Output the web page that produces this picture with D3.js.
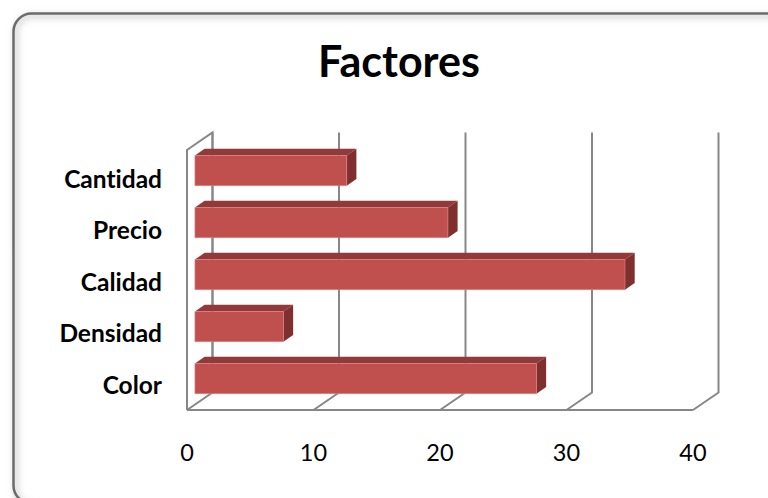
<!DOCTYPE html>
<html>
<head>
<meta charset="utf-8">
<script src="https://cdn.jsdelivr.net/npm/d3@7"></script>
<style>
  html, body { margin: 0; padding: 0; background: #ffffff; }
  svg { display: block; }
  text { font-family: Lato, "Open Sans", sans-serif; fill: #000;
         font-variant-ligatures: none; font-feature-settings: "liga" 0, "clig" 0; }
</style>
</head>
<body>
<svg id="chart" width="768" height="498"></svg>
<script>
// ---- data ----
const title = "Factores";
const categories = ["Cantidad", "Precio", "Calidad", "Densidad", "Color"];
const values = [12, 20, 34, 7, 27];
const xTicks = [0, 10, 20, 30, 40];

// ---- layout ----
const svg = d3.select("#chart");

const plot = { left: 187, right: 693, top: 150, bottom: 410 };
const depth = { dx: 25.5, dy: -17.5 };      // full wall depth offset
const barDepth = { start: 0.31, size: 0.38 }; // fraction of depth

const x = d3.scaleLinear().domain([0, 40]).range([plot.left, plot.right]);
const y = d3.scaleBand().domain(categories).range([plot.top, plot.bottom])
  .paddingInner(0.42).paddingOuter(0.21);

// project a point (value, yFront, depthFraction)
function P(v, yy, f) { return [x(v) + depth.dx * f, yy + depth.dy * f]; }

// ---- frame ----
const defs = svg.append("defs");
const blur = defs.append("filter").attr("id", "soft").attr("x", "-5%").attr("y", "-5%").attr("width", "110%").attr("height", "110%");
blur.append("feGaussianBlur").attr("stdDeviation", 3);

svg.append("rect")
  .attr("x", 16).attr("y", 16).attr("width", 780).attr("height", 490)
  .attr("rx", 16).attr("fill", "none")
  .attr("stroke", "#d4d4d4").attr("stroke-width", 5).attr("filter", "url(#soft)");
svg.append("rect")
  .attr("x", 13.5).attr("y", 13.5).attr("width", 780).attr("height", 490)
  .attr("rx", 18).attr("fill", "none")
  .attr("stroke", "#6b6b6b").attr("stroke-width", 2.5);

// ---- title ----
svg.append("text")
  .attr("x", 399).attr("y", 77)
  .attr("text-anchor", "middle")
  .style("font-size", "43px").style("font-weight", "bold")
  .text(title);

// ---- walls / gridlines ----
const grid = svg.append("g").attr("stroke", "#878787").attr("stroke-width", 2).attr("fill", "none");
const lw = d3.path();
lw.moveTo(...P(0, plot.bottom, 0));
lw.lineTo(...P(0, plot.top, 0));
lw.lineTo(...P(0, plot.top, 1));
lw.lineTo(...P(0, plot.bottom, 1));
grid.append("path").attr("d", lw.toString()).attr("stroke-linejoin", "miter");
grid.append("line")
  .attr("x1", P(0, plot.bottom, 0)[0]).attr("y1", plot.bottom)
  .attr("x2", P(40, plot.bottom, 0)[0]).attr("y2", plot.bottom);
xTicks.forEach(t => {
  const p = d3.path();
  p.moveTo(...P(t, plot.bottom, 0));
  p.lineTo(...P(t, plot.bottom, 1));
  p.lineTo(...P(t, plot.top, 1));
  grid.append("path").attr("d", p.toString());
});

// ---- bars ----
const colFront = "#c0504d", colTop = "#93393a", colSide = "#7f2f2e";
const f0 = barDepth.start, f1 = barDepth.start + barDepth.size;
const bars = svg.append("g");
categories.forEach((c, i) => {
  const v = values[i];
  const y0 = y(c), y1 = y(c) + y.bandwidth();
  const poly = pts => pts.map(p => p.join(",")).join(" ");
  bars.append("polygon").attr("fill", colTop)
    .attr("points", poly([P(0, y0, f0), P(v, y0, f0), P(v, y0, f1), P(0, y0, f1)]));
  bars.append("polygon").attr("fill", colSide)
    .attr("points", poly([P(v, y0, f0), P(v, y0, f1), P(v, y1, f1), P(v, y1, f0)]));
  bars.append("polygon").attr("fill", colFront)
    .attr("stroke", "#d88a88").attr("stroke-width", 0.6)
    .attr("points", poly([P(0, y0, f0), P(v, y0, f0), P(v, y1, f0), P(0, y1, f0)]));
});

// ---- category labels ----
svg.append("g").selectAll("text").data(categories).join("text")
  .attr("x", 162)
  .attr("y", (d, i) => y(d) + y.bandwidth() / 2 + 12 - i * 0.6)
  .attr("text-anchor", "end")
  .style("font-size", "24.5px").style("font-weight", "bold")
  .text(d => d);

// ---- value axis labels ----
svg.append("g").selectAll("text").data(xTicks).join("text")
  .attr("x", d => x(d))
  .attr("y", 461)
  .attr("text-anchor", "middle")
  .style("font-size", "23.5px")
  .text(d => d);
</script>
</body>
</html>
